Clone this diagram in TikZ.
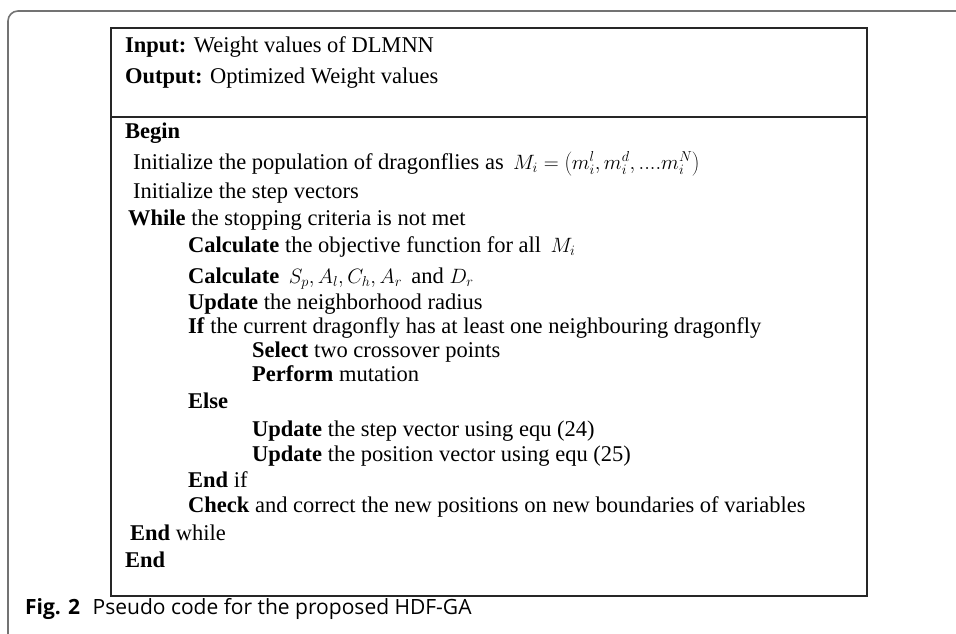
\documentclass[tikz,border=0pt]{standalone}
\usepackage{fontspec}
\setmainfont{Liberation Serif}
\newfontfamily\capfont{Open Sans}
\begin{document}
\begin{tikzpicture}[x=1pt,y=-1pt,
  codeline/.style={anchor=base west, inner sep=0pt, font=\fontsize{22.5}{26}\selectfont},
  capline/.style={anchor=base west, inner sep=0pt, font=\capfont\fontsize{21}{25}\selectfont},
  frameline/.style={draw=black!55, line width=1.6pt},
  boxline/.style={draw=black!85, line width=1.3pt}]
\useasboundingbox (0,0) rectangle (956,634);
\draw[frameline, rounded corners=10pt] (956,11) -- (8,11) -- (8,634);
\draw[boxline] (111,28) rectangle (867,596);
\draw[boxline] (111,117) -- (867,117);
\node[codeline] (in) at (125,53) {\textbf{Input:} Weight values of DLMNN};
\node[codeline] (out) at (125,84) {\textbf{Output:} Optimized Weight values};
\node[codeline] (begin) at (125,138) {\textbf{Begin}};
\node[codeline] (ini1) at (133,169) {Initialize the population of dragonflies as \,$M_i=\left(m_i^l, m_i^d, ....m_i^N\right)$};
\node[codeline] (ini2) at (133,198) {Initialize the step vectors};
\node[codeline] (wh) at (128,225) {\textbf{While} the stopping criteria is not met};
\node[codeline] (c1) at (188,252) {\textbf{Calculate} the objective function for all \,$M_i$};
\node[codeline] (c2) at (188,283) {\textbf{Calculate} \,$S_p, A_l, C_h, A_r$\, and $D_r$};
\node[codeline] (u1) at (188,309) {\textbf{Update} the neighborhood radius};
\node[codeline] (if) at (188,333) {\textbf{If} the current dragonfly has at least one neighbouring dragonfly};
\node[codeline] (sel) at (252,357) {\textbf{Select} two crossover points};
\node[codeline] (per) at (252,381) {\textbf{Perform} mutation};
\node[codeline] (else) at (188,408) {\textbf{Else}};
\node[codeline] (u2) at (252,436) {\textbf{Update} the step vector using equ (24)};
\node[codeline] (u3) at (252,461) {\textbf{Update} the position vector using equ (25)};
\node[codeline] (endif) at (188,487) {\textbf{End} if};
\node[codeline] (chk) at (188,512) {\textbf{Check} and correct the new positions on new boundaries of variables};
\node[codeline] (endwh) at (130,540) {\textbf{End} while};
\node[codeline] (end) at (125,567) {\textbf{End}};
\node[capline] (cap) at (25,614) {\textbf{Fig. 2}\,\, Pseudo code for the proposed HDF-GA};
\end{tikzpicture}
\end{document}
